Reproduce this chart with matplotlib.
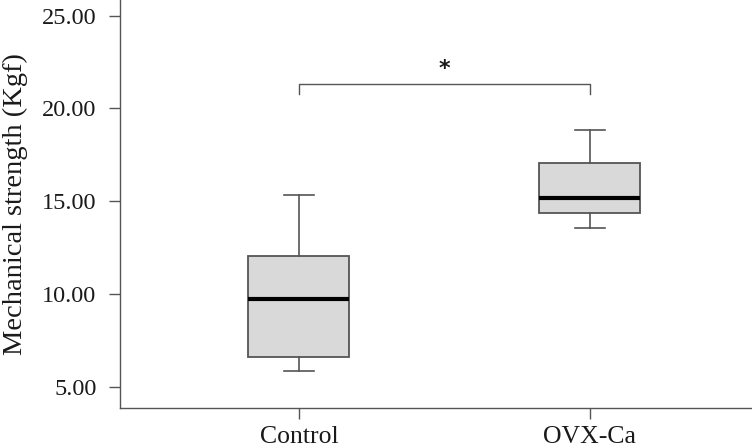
import matplotlib
matplotlib.use("Agg")
import matplotlib.pyplot as plt

# group summary values (Kgf)
groups = ["Control", "OVX-Ca"]
whis_lo = [5.83, 13.57]
q1 = [6.60, 14.35]
medians = [9.73, 15.16]
q3 = [12.05, 17.04]
whis_hi = [15.32, 18.84]

sig_y = 21.3
sig_drop = 0.5
yticks = [5, 10, 15, 20, 25]

plt.rcParams["font.family"] = ["Liberation Serif", "DejaVu Serif"]

fig = plt.figure(figsize=(7.52, 4.47), dpi=100)
ax = fig.add_axes([120 / 752, 39 / 447, 1 - 120 / 752, 1 - 39 / 447])

stats = [
    {"label": g, "whislo": lo, "q1": a, "med": m, "q3": b, "whishi": hi, "fliers": []}
    for g, lo, a, m, b, hi in zip(groups, whis_lo, q1, medians, q3, whis_hi)
]
edge = "#555555"
ax.bxp(
    stats,
    positions=range(len(groups)),
    widths=0.347,
    patch_artist=True,
    showfliers=False,
    boxprops=dict(facecolor="#d9d9d9", edgecolor=edge, linewidth=1.3),
    medianprops=dict(color="black", linewidth=3),
    whiskerprops=dict(color=edge, linewidth=1.2),
    capprops=dict(color=edge, linewidth=1.2),
    capwidths=0.105,
)

# significance bracket
ax.plot([0, 0, 1, 1], [sig_y - sig_drop, sig_y, sig_y, sig_y - sig_drop],
        color=edge, linewidth=1.0)
ax.text(0.5, sig_y + 0.3, "*", ha="center", va="bottom", fontsize=16,
        family="DejaVu Sans", fontweight="bold", color="#1a1a1a")

ax.set_xlim(-0.615, 1.557)
ax.set_ylim(3.85, 25.85)
ax.set_yticks(yticks)
ax.set_yticklabels([f"{v:.2f}" for v in yticks])
ax.set_xticks(range(len(groups)))
ax.set_xticklabels(groups)
ax.set_ylabel("Mechanical strength (Kgf)", fontsize=20.5, color="#1a1a1a")
ax.yaxis.set_label_coords(-0.146, 0.5)

for s in ["top", "right"]:
    ax.spines[s].set_visible(False)
for s in ["left", "bottom"]:
    ax.spines[s].set_color(edge)
    ax.spines[s].set_linewidth(1.0)
ax.tick_params(axis="both", colors=edge, labelcolor="#1a1a1a",
               length=8, width=1.0)
ax.tick_params(axis="y", labelsize=17.5, pad=9)
ax.tick_params(axis="x", labelsize=18.5, pad=5)

fig.savefig("out.png", dpi=100)
